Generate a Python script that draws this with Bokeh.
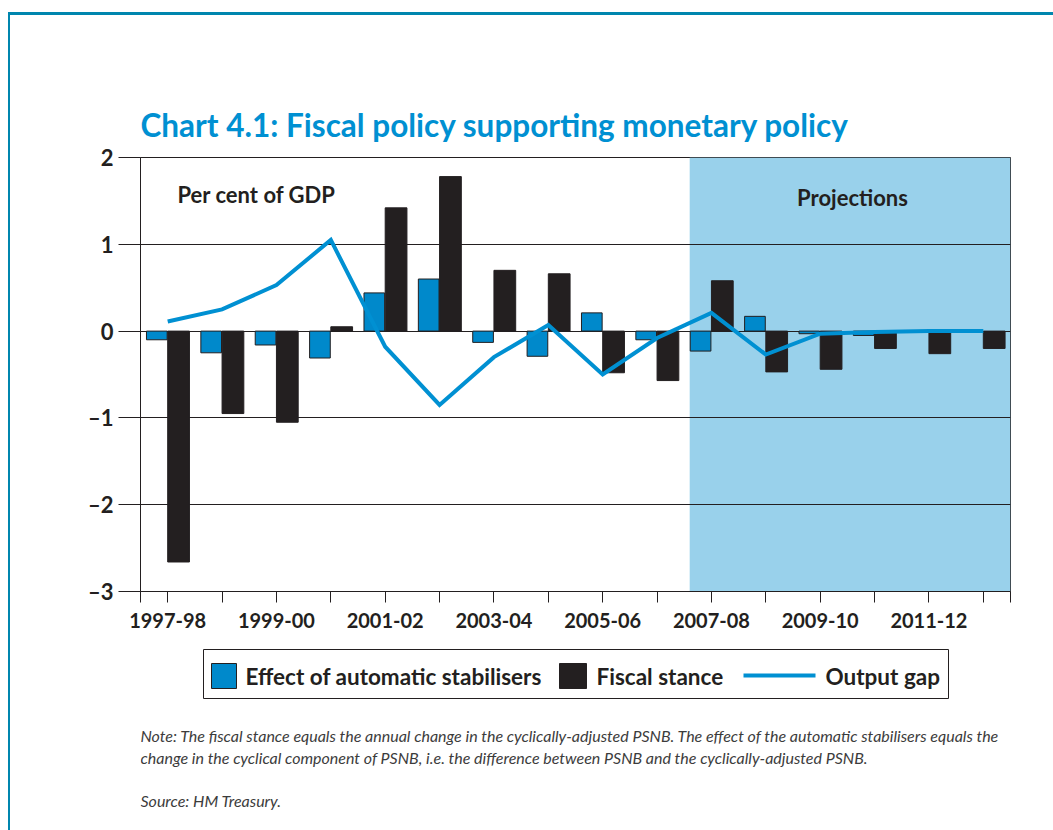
from bokeh.plotting import figure
from bokeh.models import Label, BoxAnnotation, FixedTicker, Title
from bokeh.layouts import column
from bokeh.embed import file_html
from bokeh.resources import INLINE

years = ["1997-98", "1998-99", "1999-00", "2000-01", "2001-02", "2002-03", "2003-04", "2004-05",
         "2005-06", "2006-07", "2007-08", "2008-09", "2009-10", "2010-11", "2011-12", "2012-13"]
stabilisers = [-0.10, -0.25, -0.16, -0.31, 0.44, 0.60, -0.13, -0.29,
               0.21, -0.10, -0.23, 0.17, -0.03, -0.05, 0.0, 0.0]
fiscal_stance = [-2.66, -0.95, -1.05, 0.05, 1.42, 1.78, 0.70, 0.66,
                 -0.48, -0.57, 0.58, -0.47, -0.44, -0.20, -0.26, -0.20]
output_gap = [0.11, 0.25, 0.53, 1.05, -0.18, -0.85, -0.30, 0.07,
              -0.50, -0.08, 0.21, -0.27, -0.03, -0.01, 0.0, 0.0]
y_ticks = [-3, -2, -1, 0, 1, 2]
y_tick_labels = ["\u20133", "\u20132", "\u20131", "0", "1", "2"]
first_projection = "2007-08"
series_names = ["Effect of automatic stabilisers", "Fiscal stance", "Output gap"]

BLUE = "#0089CB"
LINE_BLUE = "#0090D2"
DARK = "#231F20"
SHADE = "#99D1EB"
FRAME = "#0086AE"
NOTE = "#3C3C3C"
FONT = "Lato"

idx = list(range(len(years)))

W = 1043
LEFT, RIGHT = 130, 43

# ---------------- main chart ----------------
p = figure(width=W, height=630, output_backend="svg", toolbar_location=None,
           x_range=(-0.5, len(years) - 0.5), y_range=(min(y_ticks), max(y_ticks)),
           min_border_left=LEFT, min_border_right=RIGHT, min_border_top=142, min_border_bottom=54)
p.background_fill_color = "white"
p.border_fill_color = "white"
p.outline_line_color = DARK
p.outline_line_width = 1

p.title = Title(text="Chart 4.1: Fiscal policy supporting monetary policy", align="left",
                text_font=FONT, text_font_style="bold", text_font_size="31.5px",
                text_color=LINE_BLUE, standoff=28, offset=0)

proj_start = years.index(first_projection) - 0.4
p.add_layout(BoxAnnotation(left=proj_start, fill_color=SHADE, fill_alpha=1.0,
                           line_color=None, level="image"))

p.vbar(x=[i - 0.2 for i in idx], top=stabilisers, bottom=0, width=0.38,
       fill_color=BLUE, line_color=DARK, line_width=1)
p.vbar(x=[i + 0.2 for i in idx], top=fiscal_stance, bottom=0, width=0.40,
       fill_color=DARK, line_color=DARK, line_width=1)
p.line(x=idx, y=output_gap, line_color=LINE_BLUE, line_width=4, line_join="miter")

p.xgrid.visible = False
p.ygrid.ticker = FixedTicker(ticks=y_ticks)
p.ygrid.grid_line_color = DARK
p.ygrid.grid_line_width = 1

p.yaxis.ticker = FixedTicker(ticks=y_ticks)
p.yaxis.major_label_overrides = {t: l for t, l in zip(y_ticks, y_tick_labels)}
p.yaxis.major_tick_out = 22
p.yaxis.major_tick_in = 0
p.yaxis.minor_tick_out = 0
p.yaxis.major_tick_line_color = DARK
p.yaxis.axis_line_color = DARK
p.yaxis.major_label_standoff = 5
p.yaxis.major_label_text_font = FONT
p.yaxis.major_label_text_font_style = "bold"
p.yaxis.major_label_text_font_size = "22px"
p.yaxis.major_label_text_color = DARK

p.xaxis.ticker = FixedTicker(ticks=idx[::2], minor_ticks=[-0.5] + idx[1::2] + [len(years) - 0.5])
p.xaxis.major_label_overrides = {i: years[i] for i in idx[::2]}
p.xaxis.major_tick_out = 11
p.xaxis.major_tick_in = 0
p.xaxis.minor_tick_out = 11
p.xaxis.minor_tick_in = 0
p.xaxis.major_tick_line_color = DARK
p.xaxis.minor_tick_line_color = DARK
p.xaxis.axis_line_color = DARK
p.xaxis.major_label_standoff = 10
p.xaxis.major_label_text_font = FONT
p.xaxis.major_label_text_font_style = "bold"
p.xaxis.major_label_text_font_size = "20px"
p.xaxis.major_label_text_color = DARK


def lab(fig, x, y, text, size, color=DARK, style="bold", align="left", baseline="alphabetic", units="screen"):
    fig.add_layout(Label(x=x, y=y, x_units=units, y_units=units, text=text,
                         text_font=FONT, text_font_style=style, text_font_size=size,
                         text_color=color, text_align=align, text_baseline=baseline))


lab(p, 37, 397, "Per cent of GDP", "22px")
lab(p, 712, 394, "Projections", "22px", align="center")

# ---------------- legend and notes ----------------
H = 185
q = figure(width=W, height=H, output_backend="svg", toolbar_location=None,
           x_range=(LEFT, W - RIGHT), y_range=(H, 0),
           min_border_left=LEFT, min_border_right=RIGHT, min_border_top=0, min_border_bottom=0,
           x_axis_location=None, y_axis_location=None)
q.grid.visible = False
q.outline_line_color = None
q.background_fill_color = "white"
q.border_fill_color = "white"

q.quad(left=[193], right=[938], top=[4], bottom=[53], fill_color="white", line_color=DARK, line_width=1)
q.quad(left=[201], right=[226], top=[18], bottom=[43], fill_color=BLUE, line_color=DARK, line_width=1)
q.quad(left=[549], right=[576], top=[18], bottom=[43], fill_color=DARK, line_color=DARK, line_width=1)
q.line(x=[733, 805], y=[30, 30], line_color=LINE_BLUE, line_width=4)
lab(q, 235, 31, series_names[0], "22.5px", baseline="middle", units="data")
lab(q, 586, 31, series_names[1], "22.5px", baseline="middle", units="data")
lab(q, 815, 31, series_names[2], "22.5px", baseline="middle", units="data")

lab(q, 130, 90, "Note: The fiscal stance equals the annual change in the cyclically-adjusted PSNB. "
                "The effect of the automatic stabilisers equals the", "16px", color=NOTE, style="italic", units="data")
lab(q, 130, 112, "change in the cyclical component of PSNB, i.e. the difference between PSNB and the "
                 "cyclically-adjusted PSNB.", "16px", color=NOTE, style="italic", units="data")
lab(q, 130, 155, "Source: HM Treasury.", "16px", color=NOTE, style="italic", units="data")

layout = column(p, q, spacing=0)
layout.styles = {"margin-left": "8px", "margin-top": "12px",
                 "border-left": "2px solid " + FRAME, "border-top": "3px solid " + FRAME}

open("out.html", "w").write(file_html(layout, INLINE))
